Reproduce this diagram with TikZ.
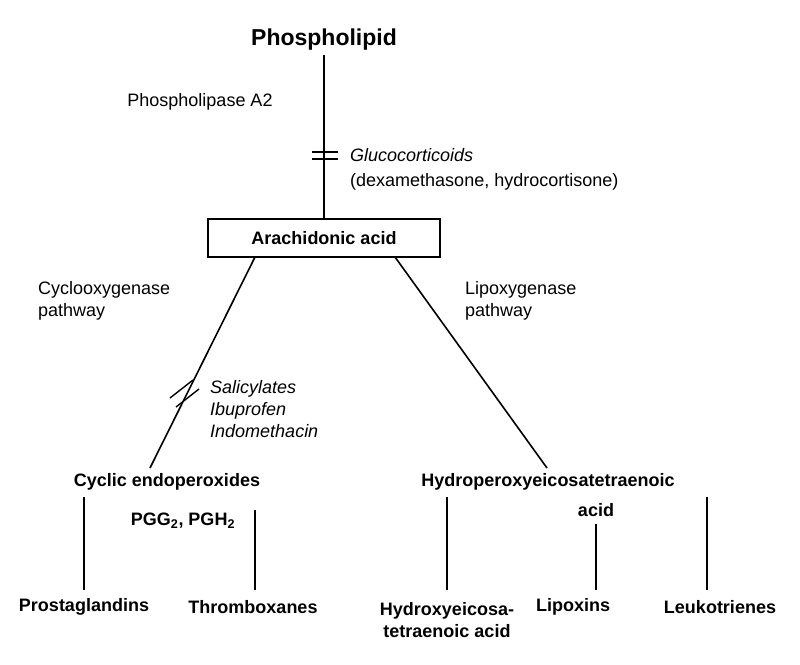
\documentclass[tikz,border=0pt]{standalone}
\usepackage{fontspec}
\setmainfont{Liberation Sans}
\tikzset{
  lbl/.style={inner sep=0pt, font=\fontsize{18}{22}\selectfont},
  blbl/.style={inner sep=0pt, font=\fontsize{18}{22}\selectfont\bfseries},
  ilbl/.style={lbl, anchor=west, font=\fontsize{18}{22}\selectfont\itshape},
  path/.style={line width=1.6pt},
  blocker/.style={line width=1.4pt}
}
\begin{document}
\begin{tikzpicture}[x=1pt,y=-1pt]
\useasboundingbox (0,0) rectangle (800,664);
% top of the cascade
\node[inner sep=0pt, font=\fontsize{23}{26}\selectfont\bfseries] (pl) at (324,40) {Phospholipid};
\node[lbl] (pla) at (200,102) {Phospholipase A2};
\node[draw, line width=1.6pt, minimum width=232pt, minimum height=38pt, font=\fontsize{18}{22}\selectfont\bfseries] (aa) at (324,238) {Arachidonic acid};
\node[ilbl] (gc) at (350,155) {Glucocorticoids};
\node[lbl, anchor=west] (dx) at (350,182) {(dexamethasone, hydrocortisone)};
\draw[path] (324,55) -- (aa.north);
\draw[blocker] (312,152) -- (338,152);
\draw[blocker] (312,159) -- (338,159);

% two pathways
\node[lbl, anchor=west, align=left] (cox) at (38,301) {Cyclooxygenase\\pathway};
\node[lbl, anchor=west, align=left] (lox) at (465,301) {Lipoxygenase\\pathway};
\node[blbl] (ce) at (167,482) {Cyclic endoperoxides};
\node[blbl] (pg) at (183,521) {PGG\textsubscript{2}, PGH\textsubscript{2}};
\node[blbl] (hp) at (548,482) {Hydroperoxyeicosatetraenoic};
\node[blbl] (hpa) at (596,510) {acid};
\coordinate (aal) at (255,257);
\coordinate (aar) at (395,257);
\draw[path] (aal) -- (150,468);
\draw[path] (aar) -- (547,468);
\draw[blocker] (170,398) -- (193,380);
\draw[blocker] (176,407) -- (199,389);
\node[ilbl, align=left] (nsaid) at (210,409) {Salicylates\\Ibuprofen\\Indomethacin};

% products
\node[blbl] (pros) at (84,607) {Prostaglandins};
\node[blbl] (thr) at (253,607) {Thromboxanes};
\node[blbl, align=center] (hx) at (447,620) {Hydroxyeicosa-\\tetraenoic acid};
\node[blbl] (lx) at (573,607) {Lipoxins};
\node[blbl] (lt) at (720,607) {Leukotrienes};
\draw[path] (84,497) -- (84,590);
\draw[path] (255,510) -- (255,590);
\draw[path] (447,497) -- (447,590);
\draw[path] (596,524) -- (596,590);
\draw[path] (707,497) -- (707,590);
\end{tikzpicture}
\end{document}
